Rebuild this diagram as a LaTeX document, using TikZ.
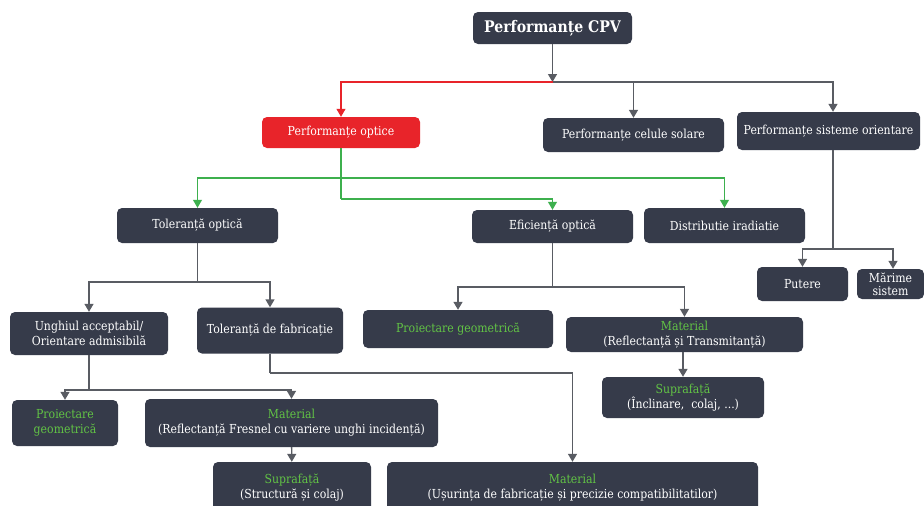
\documentclass[tikz,border=0pt]{standalone}
\usepackage{fontspec}
\setmainfont{DejaVu Serif}[FakeStretch=0.88]
\usetikzlibrary{arrows.meta, positioning, calc}
\definecolor{boxdark}{HTML}{363B4A}
\definecolor{hotred}{HTML}{E8242A}
\definecolor{titlegreen}{HTML}{62C445}
\definecolor{linkgreen}{HTML}{3DB04E}
\definecolor{linkgray}{HTML}{595C63}
\newcommand{\greentitle}[1]{\textcolor{titlegreen}{#1}}

\begin{document}
\begin{tikzpicture}[x=1pt, y=-1pt,
  box/.style={rectangle, rounded corners=5pt, fill=boxdark, text=white, inner sep=2pt,
    align=center, font=\fontsize{12.4}{15}\selectfont},
  redbox/.style={box, fill=hotred},
  link/.style={linkgray, line width=1.4pt, -{Triangle[width=9pt,length=8pt]}},
  plain/.style={linkgray, line width=1.4pt},
  greenlink/.style={linkgreen, line width=1.1pt, -{Triangle[width=9pt,length=8pt]}},
  redlink/.style={hotred, line width=1.1pt, -{Triangle[width=9pt,length=8pt]}}]
  % Canvas
  \fill[white] (0,0) rectangle (924,506);
  \useasboundingbox (0,0) rectangle (924,506);

  % Root
  \node[box, minimum width=159, minimum height=32, font=\fontsize{16}{18}\selectfont\bfseries] (cpv) at (552.5,28) {Performanțe CPV};

  % Level 1
  \node[redbox, minimum width=158, minimum height=31] (optice) at (341,132.5) {Performanțe optice};
  \node[box, minimum width=181, minimum height=34] (celule) at (633.5,135) {Performanțe celule solare};
  \node[box, minimum width=183, minimum height=38] (sisteme) at (828.5,131) {Performanțe sisteme orientare};

  % Level 2
  \node[box, minimum width=161, minimum height=35] (tolopt) at (197.5,225.5) {Toleranță optică};
  \node[box, minimum width=161, minimum height=33] (eficienta) at (552.5,226.5) {Eficiență optică};
  \node[box, minimum width=161, minimum height=35] (distrib) at (724.5,225.5) {Distributie iradiatie};
  \node[box, minimum width=91, minimum height=34] (putere) at (802.5,284) {Putere};
  \node[box, minimum width=67, minimum height=30, inner sep=0pt, font=\fontsize{12.4}{13}\selectfont] (marime) at (890.5,284) {Mărime\\sistem};

  % Level 3
  \node[box, minimum width=158, minimum height=43] (unghi) at (89,333.5) {Unghiul acceptabil/\\Orientare admisibilă};
  \node[box, minimum width=146, minimum height=46] (tolfab) at (270,330.5) {Toleranță de fabricație};
  \node[box, minimum width=190, minimum height=38] (proiect2) at (458,329) {\greentitle{Proiectare geometrică}};
  \node[box, minimum width=237, minimum height=35] (matrefl) at (684.5,334.5) {\greentitle{Material}\\(Reflectanță și Transmitanță)};
  \node[box, minimum width=162, minimum height=41] (supr2) at (683,397.5) {\greentitle{Suprafață}\\(Înclinare,~ colaj, ...)};

  % Level 4
  \node[box, minimum width=106, minimum height=46] (proiect1) at (65,423) {\greentitle{Proiectare}\\\greentitle{geometrică}};
  \node[box, minimum width=293, minimum height=48] (matfres) at (291.5,423) {\greentitle{Material}\\(Reflectanță Fresnel cu variere unghi incidență)};
  \node[box, minimum width=158, minimum height=52] (suprstr) at (292,488) {\greentitle{Suprafață}\\(Structură și colaj)};
  \node[box, minimum width=371, minimum height=52] (matusur) at (572.5,488) {\greentitle{Material}\\(Ușurința de fabricație și precizie compatibilitatilor)};

  % Junction points
  \coordinate (j1) at (552.5,82);
  \coordinate (g1) at (341,178);
  \coordinate (g2) at (341,199);
  \coordinate (s1) at (833,249);
  \coordinate (t1) at (197.5,282);
  \coordinate (e1) at (552.5,287);
  \coordinate (u1) at (89,390);
  \coordinate (f1) at (270,373);

  % Root branches
  \draw[link] (cpv) -- (j1);
  \draw[redlink] (j1) -| (optice);
  \draw[link] (j1) -| (celule);
  \draw[link] (j1) -| (sisteme.north -| s1);

  % Optical branches
  \draw[linkgreen, line width=1.1pt] (optice) -- (g2);
  \draw[greenlink] (g2) -| (eficienta);
  \draw[greenlink] (g1) -| (tolopt);
  \draw[greenlink] (g1) -| (distrib);

  % Tracking systems
  \draw[plain] (sisteme.south -| s1) -- (s1);
  \draw[link] (s1) -| (putere);
  \draw[link] (s1) -| (marime.north -| 893,0);

  % Optical tolerance
  \draw[plain] (tolopt) -- (t1);
  \draw[link] (t1) -| (unghi);
  \draw[link] (t1) -| (tolfab);
  \draw[plain] (unghi) -- (u1);
  \draw[link] (u1) -| (proiect1);
  \draw[link] (u1) -| (matfres);
  \draw[link] (matfres) -- (suprstr);
  \draw[plain] (tolfab) -- (f1);
  \draw[link] (f1) -| (matusur);

  % Optical efficiency
  \draw[plain] (eficienta) -- (e1);
  \draw[link] (e1) -| (proiect2);
  \draw[link] (e1) -| (matrefl);
  \draw[link] (matrefl.south -| supr2) -- (supr2);
\end{tikzpicture}
\end{document}
